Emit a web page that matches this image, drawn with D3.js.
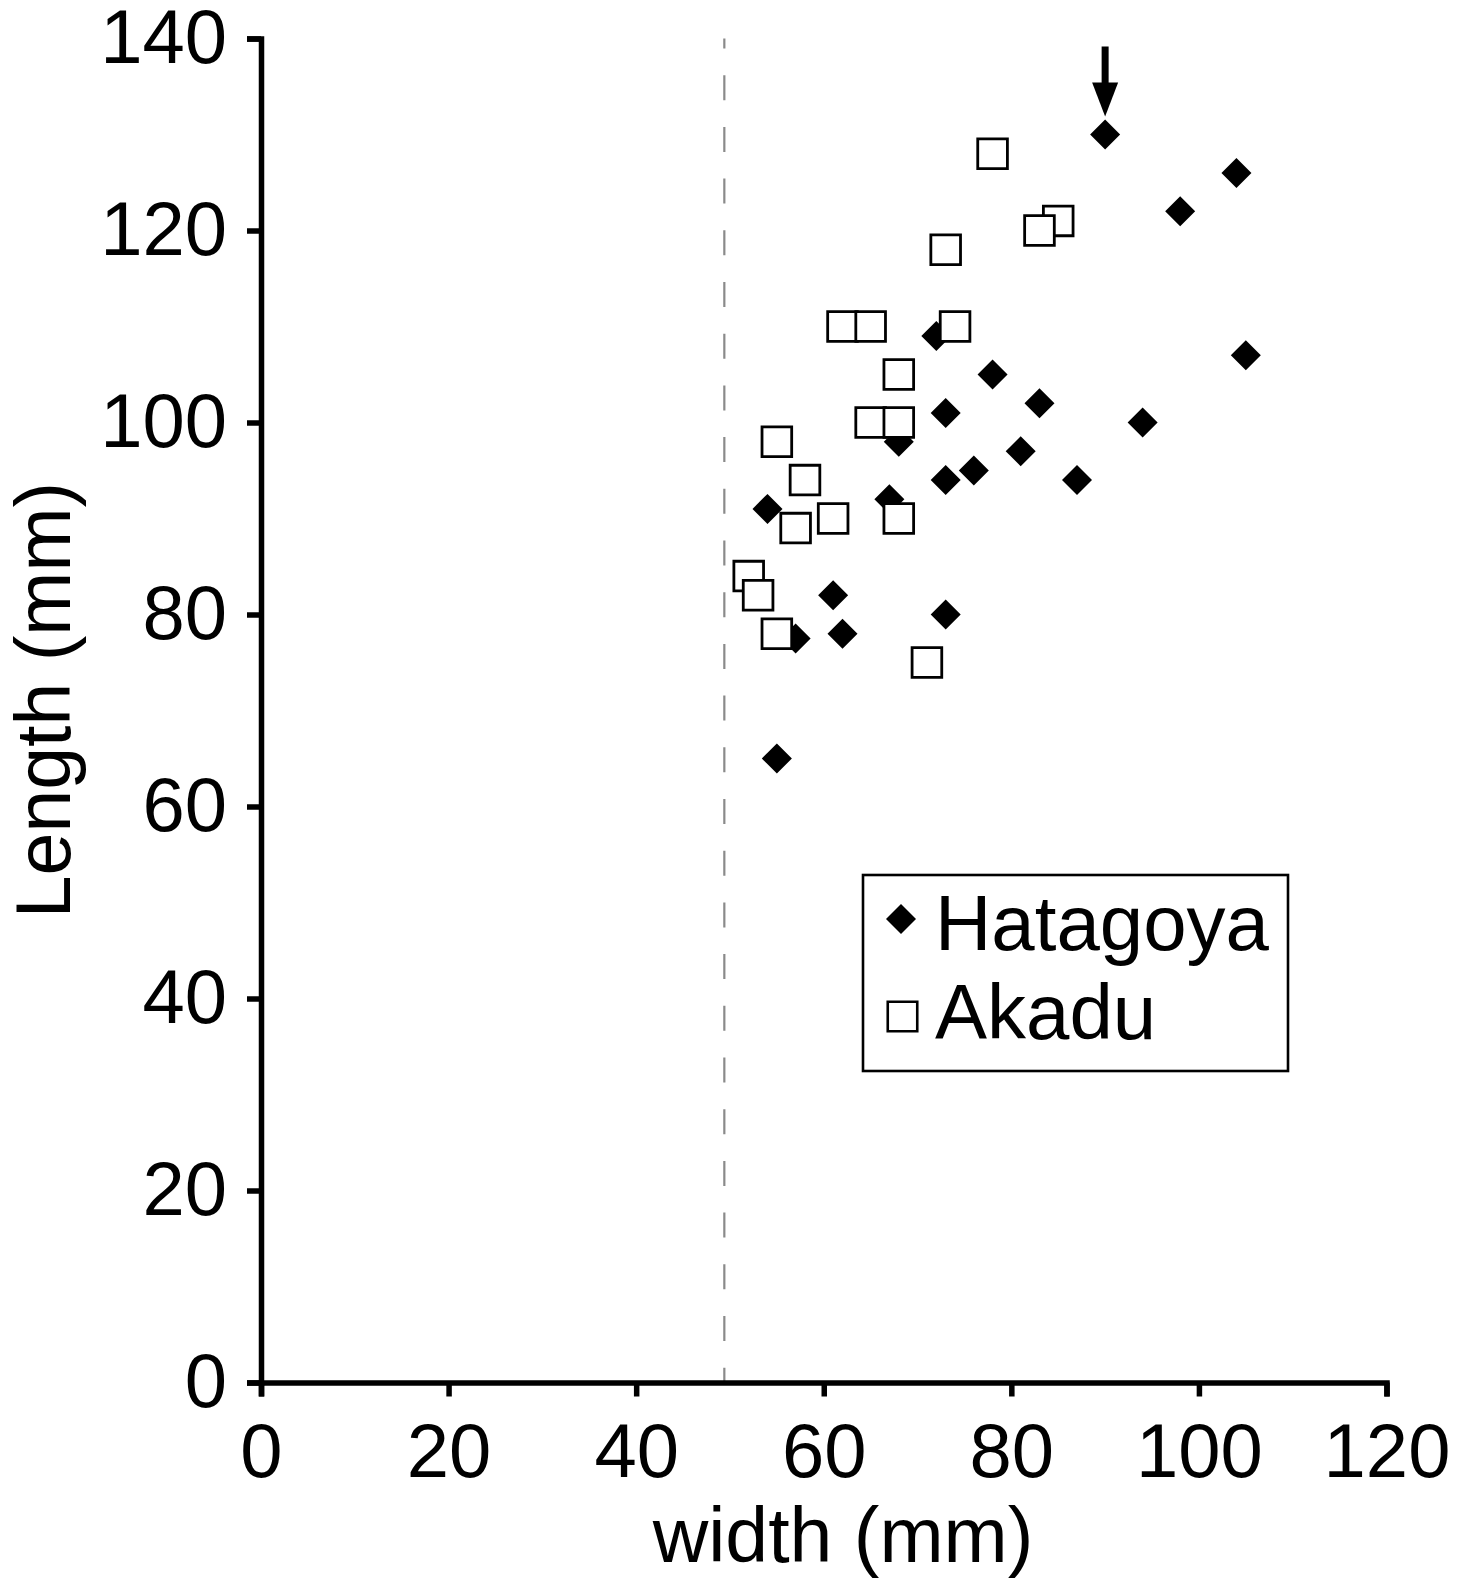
<!DOCTYPE html>
<html>
<head>
<meta charset="utf-8">
<script src="https://cdn.jsdelivr.net/npm/d3@7"></script>
<style>
  body { margin: 0; background: #fff; }
  text { font-family: "Liberation Sans", Arial, Helvetica, sans-serif; fill: #000; }
</style>
</head>
<body>
<div id="chart"></div>
<script>
// shell width vs length, two sites

const hatagoyaWidth  = [90, 104, 98, 105, 72, 78, 83, 73, 94, 68, 81, 76, 73, 87, 54, 67, 61, 62, 57, 73, 55];
const hatagoyaLength = [130, 126, 122, 107, 109, 105, 102, 101, 100, 98, 97, 95, 94, 94, 91, 92, 82, 78, 77.5, 80, 65];

const akaduWidth  = [78, 85, 83, 73, 62, 65, 74, 68, 65, 68, 55, 58, 61, 57, 68, 52, 53, 55, 71];
const akaduLength = [128, 121, 120, 118, 110, 110, 110, 105, 100, 100, 98, 94, 90, 89, 90, 84, 82, 78, 75];

const xTicks = [0, 20, 40, 60, 80, 100, 120];
const yTicks = [0, 20, 40, 60, 80, 100, 120, 140];
const cutoffWidth = 49.4;          // dashed reference line
const markedPoint = [90, 130];     // point with the arrow
const seriesNames = ["Hatagoya", "Akadu"];

var W = 1471, H = 1581;
var margin = {left: 261, right: 84.5, top: 38.5, bottom: 198.5};

var x = d3.scaleLinear().domain([0, 120]).range([margin.left, W - margin.right]);
var y = d3.scaleLinear().domain([0, 140]).range([H - margin.bottom, margin.top]);

var svg = d3.select("#chart").append("svg")
    .attr("width", W)
    .attr("height", H);

// dashed line
svg.append("line")
    .attr("x1", x(cutoffWidth)).attr("x2", x(cutoffWidth))
    .attr("y1", y(140)).attr("y2", y(0))
    .attr("stroke", "#8a8a8a")
    .attr("stroke-width", 2.2)
    .attr("stroke-dasharray", "25,26.7")
    .attr("stroke-dashoffset", 15);

// axes
var xAxis = svg.append("g")
    .attr("transform", "translate(0," + y(0) + ")")
    .call(d3.axisBottom(x).tickValues(xTicks).tickSize(14).tickPadding(27).tickFormat(d3.format("d")));
var yAxis = svg.append("g")
    .attr("transform", "translate(" + x(0) + ",0)")
    .call(d3.axisLeft(y).tickValues(yTicks).tickSize(14).tickPadding(20).tickFormat(d3.format("d")));

[xAxis, yAxis].forEach(function(g) {
    g.attr("font-family", null).attr("font-size", null);
    g.selectAll("path, line").attr("stroke", "#000").attr("stroke-width", 5.5);
    g.selectAll("text").style("font-size", "76px");
});

// axis titles
svg.append("text")
    .attr("x", 843).attr("y", 1562)
    .attr("text-anchor", "middle")
    .style("font-size", "77px")
    .text("width (mm)");

svg.append("text")
    .attr("transform", "translate(70,700) rotate(-90)")
    .attr("text-anchor", "middle")
    .style("font-size", "77px")
    .text("Length (mm)");

var diamond = d3.symbol(d3.symbolSquare, 450);
var square = d3.symbol(d3.symbolSquare, 880);

// Hatagoya - filled diamonds
svg.selectAll(".hat")
    .data(hatagoyaWidth)
    .enter()
    .append("path")
    .attr("class", "hat")
    .attr("d", diamond)
    .attr("transform", (d, i) => "translate(" + x(d) + "," + y(hatagoyaLength[i]) + ") rotate(45)")
    .attr("fill", "#000");

// Akadu - open squares drawn on top
svg.selectAll(".aka")
    .data(akaduWidth)
    .enter()
    .append("path")
    .attr("class", "aka")
    .attr("d", square)
    .attr("transform", (d, i) => "translate(" + x(d) + "," + y(akaduLength[i]) + ")")
    .attr("fill", "#fff")
    .attr("stroke", "#000")
    .attr("stroke-width", 2.8);

// arrow pointing at the marked point
var ax = x(markedPoint[0]), ay = y(markedPoint[1]);
svg.append("rect")
    .attr("x", ax - 3.5).attr("y", ay - 88)
    .attr("width", 7).attr("height", 40)
    .attr("fill", "#000");
svg.append("path")
    .attr("d", "M" + (ax - 13) + "," + (ay - 52) + " L" + (ax + 13) + "," + (ay - 52) + " L" + ax + "," + (ay - 18) + " Z")
    .attr("fill", "#000");

// legend
var legend = svg.append("g");
legend.append("rect")
    .attr("x", 863).attr("y", 875)
    .attr("width", 425).attr("height", 196)
    .attr("fill", "#fff")
    .attr("stroke", "#000")
    .attr("stroke-width", 2.6);

legend.append("path")
    .attr("d", diamond)
    .attr("transform", "translate(901,919) rotate(45)")
    .attr("fill", "#000");
legend.append("path")
    .attr("d", d3.symbol(d3.symbolSquare, 870))
    .attr("transform", "translate(902.5,1016.5)")
    .attr("fill", "#fff")
    .attr("stroke", "#000")
    .attr("stroke-width", 2.6);

legend.selectAll(".lab")
    .data(seriesNames)
    .enter()
    .append("text")
    .attr("x", 935)
    .attr("y", (d, i) => 950 + i * 89)
    .style("font-size", "78px")
    .text(d => d);
</script>
</body>
</html>
